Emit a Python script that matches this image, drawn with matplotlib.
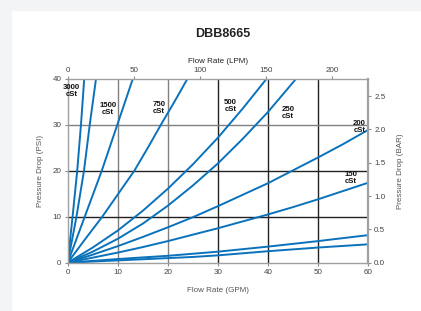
import matplotlib.pyplot as plt
from matplotlib.patches import Rectangle

plt.rcParams['font.family'] = ['Liberation Sans', 'DejaVu Sans']

# viscosity curves: flow (GPM) vs pressure drop (PSI)
gpm_3000 = [0, 1.0, 1.9, 2.65, 3.3]
psi_3000 = [0, 10.3, 20, 30, 40]
gpm_1500 = [0, 1.75, 3.25, 4.4, 5.65]
psi_1500 = [0, 10, 20, 30, 40]
gpm_750 = [0, 3.4, 6.8, 9.9, 13.0]
psi_750 = [0, 10, 20, 30, 40]
gpm_c4 = [0, 3.4, 6.9, 10.1, 13.3, 16.0, 18.6, 21.3, 23.9]
psi_c4 = [0, 5, 10, 15, 20, 25, 30, 35, 40]
gpm_c5 = [0, 5, 10, 15, 20, 25, 30, 35, 39.7]
psi_c5 = [0, 3.3, 7.0, 11.3, 16.1, 21.4, 27.2, 33.6, 40]
gpm_c6 = [0, 5, 10, 15, 20, 25, 30, 35, 40, 45.6]
psi_c6 = [0, 2.4, 5.2, 8.5, 12.4, 16.8, 21.6, 27.0, 32.8, 40]
gpm_low = [0, 5, 10, 15, 20, 25, 30, 35, 40, 45, 50, 55, 60]
psi_200 = [0, 1.75, 3.6, 5.6, 7.7, 9.9, 12.3, 14.8, 17.3, 20.1, 22.9, 25.8, 28.9]
psi_150 = [0, 1.1, 2.2, 3.4, 4.7, 6.1, 7.5, 9.0, 10.5, 12.1, 13.8, 15.6, 17.4]
psi_a = [0, 0.4, 0.8, 1.15, 1.5, 1.95, 2.4, 2.95, 3.5, 4.1, 4.7, 5.35, 6.0]
psi_b = [0, 0.25, 0.5, 0.75, 1.0, 1.25, 1.6, 2.05, 2.5, 2.9, 3.3, 3.65, 4.0]

labels = ['3000\ncSt', '1500\ncSt', '750\ncSt', '500\ncSt', '250\ncSt', '200\ncSt', '150\ncSt']
label_x = [0.8, 8.05, 18.2, 32.5, 44.0, 58.3, 56.6]
label_y = [37.4, 33.4, 33.6, 34.1, 32.6, 29.6, 18.5]

blue = '#0a72bb'
gray = '#8c8c8c'

fig = plt.figure(figsize=(4.21, 3.11), dpi=100)
fig.patches.append(Rectangle((0, 0), 11 / 421, 1, transform=fig.transFigure,
                             color='#f3f4f6', zorder=-1))
fig.patches.append(Rectangle((0, 1 - 10 / 311), 1, 10 / 311, transform=fig.transFigure,
                             color='#f3f4f6', zorder=-1))

ax = fig.add_axes([0.1608, 0.1553, 0.7133, 0.5907])
ax.set_xlim(0, 60)
ax.set_ylim(0, 40)

# grid lines, some lighter than others
for xv, c in zip([10, 20, 30, 40, 50], ['#808080', '#808080', '#222222', '#222222', '#222222']):
    ax.axvline(xv, color=c, lw=1.0, zorder=1)
for yv, c in zip([10, 20, 30], ['#222222', '#222222', '#808080']):
    ax.axhline(yv, color=c, lw=1.0, zorder=1)

curves = [(gpm_3000, psi_3000), (gpm_1500, psi_1500), (gpm_750, psi_750),
          (gpm_c4, psi_c4), (gpm_c5, psi_c5), (gpm_c6, psi_c6),
          (gpm_low, psi_200), (gpm_low, psi_150), (gpm_low, psi_a), (gpm_low, psi_b)]
for xs, ys in curves:
    ax.plot(xs, ys, color=blue, lw=1.4, zorder=2, solid_capstyle='butt')

for t, xv, yv in zip(labels, label_x, label_y):
    ax.text(xv, yv, t, fontsize=5.6, fontweight='bold', ha='center', va='center',
            linespacing=1.0, color='#111111', zorder=3, clip_on=False)

for s in ax.spines.values():
    s.set_color('#a0a0a0')
    s.set_linewidth(1.0)
ax.spines['right'].set_linewidth(1.6)

ax.set_xticks(range(0, 61, 10))
ax.set_yticks(range(0, 41, 10))
ax.tick_params(colors=gray, labelcolor='#444444', labelsize=5.8, length=2.5, width=0.8, pad=2)
ax.set_xlabel('Flow Rate (GPM)', fontsize=5.8, color='#555555', labelpad=8)
ax.set_ylabel('Pressure Drop (PSI)', fontsize=5.8, color='#555555', labelpad=6)

top = ax.secondary_xaxis('top', functions=(lambda q: q * 3.785, lambda l: l / 3.785))
top.set_xticks([0, 50, 100, 150, 200])
top.tick_params(colors=gray, labelcolor='#444444', labelsize=5.8, length=2.5, width=0.8, pad=1)
top.spines['top'].set_visible(False)
top.set_xlabel('Flow Rate (LPM)', fontsize=5.8, color='#222222', labelpad=3)

right = ax.secondary_yaxis('right', functions=(lambda p: p / 14.5038, lambda b: b * 14.5038))
right.set_yticks([0.0, 0.5, 1.0, 1.5, 2.0, 2.5])
right.set_yticklabels(['0.0', '0.5', '1.0', '1.5', '2.0', '2.5'])
right.tick_params(colors=gray, labelcolor='#444444', labelsize=5.8, length=2.5, width=0.8, pad=2)
right.spines['right'].set_visible(False)
right.set_ylabel('Pressure Drop (BAR)', fontsize=5.8, color='#555555', labelpad=8)

fig.text(0.5285, 0.892, 'DBB8665', fontsize=9, fontweight='bold', ha='center', va='center',
         color='#222222')

fig.savefig('out.png', dpi=100)
